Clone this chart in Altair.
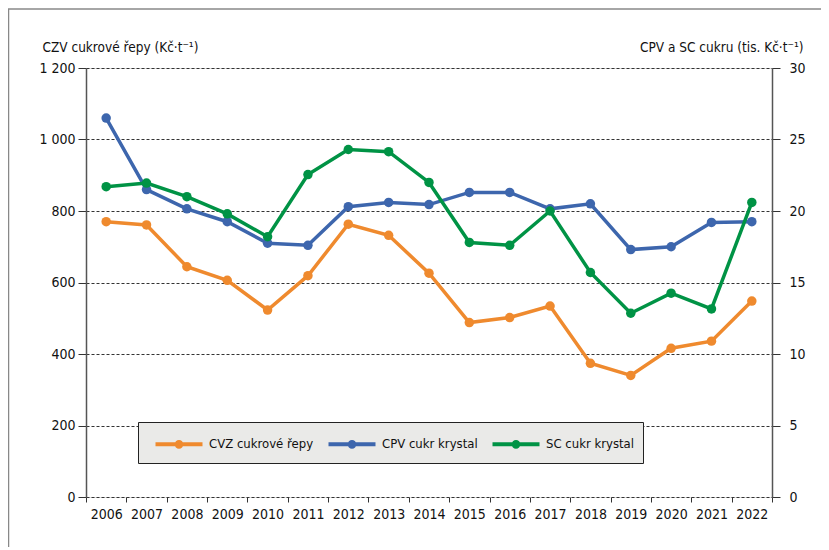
import altair as alt
import pandas as pd

years = [str(y) for y in range(2006, 2023)]
czv = [770, 761, 644, 606, 523, 619, 763, 732, 626, 488, 502, 534, 374, 340, 416, 436, 548]
cpv = [26.5, 21.5, 20.15, 19.25, 17.75, 17.6, 20.3, 20.6, 20.45, 21.3, 21.3, 20.15, 20.5, 17.3, 17.5, 19.2, 19.25]
sc = [21.7, 21.95, 21.0, 19.8, 18.2, 22.55, 24.3, 24.15, 22.0, 17.8, 17.6, 20.0, 15.7, 12.85, 14.25, 13.15, 20.6]

series_names = ["CVZ cukrové řepy", "CPV cukr krystal", "SC cukr krystal"]
series_colors = ["#ef8a2e", "#3d66ad", "#009345"]

left_title = "CZV cukrové řepy (Kč·t⁻¹)"
right_title = "CPV a SC cukru (tis. Kč·t⁻¹)"

left_df = pd.DataFrame({"year": years, "series": series_names[0], "value": czv})
right_df = pd.concat([
    pd.DataFrame({"year": years, "series": series_names[1], "value": cpv}),
    pd.DataFrame({"year": years, "series": series_names[2], "value": sc}),
])

FONT = "'Liberation Sans Narrow', 'Arial Narrow', 'DejaVu Sans Condensed', 'Roboto Condensed', Roboto, 'Liberation Sans', sans-serif"
W, H = 686, 429

legend_path = "M-2,0H2M0.2,0A0.2,0.2,0,1,1,-0.2,0A0.2,0.2,0,1,1,0.2,0Z"

xenc = alt.X("year:O", title=None,
             scale=alt.Scale(type="band", paddingInner=0, paddingOuter=0),
             axis=alt.Axis(labelAngle=0, tickBand="extent", domain=False,
                           ticks=True, tickSize=5, tickColor="#333",
                           labelPadding=5, labelFontSize=14, labelColor="#111",
                           labelFont=FONT, grid=False))

color = alt.Color("series:N", title=None,
                  scale=alt.Scale(domain=series_names, range=series_colors),
                  legend=alt.Legend(
                      orient="none", legendX=52, legendY=354, direction="horizontal",
                      symbolType=legend_path, symbolSize=552, symbolStrokeWidth=4,
                      symbolOffset=19, labelOffset=16, columnPadding=5,
                      padding=8, fillColor="#eaeae8", strokeColor="#222",
                      labelFont=FONT, labelFontSize=13, labelColor="#111",
                      labelLimit=300))

left_axis = alt.Axis(title=left_title, titleAngle=0, titleAlign="left",
                     titleBaseline="alphabetic", titleX=-44, titleY=-17,
                     titleFont=FONT, titleFontSize=13.5, titleFontWeight="normal",
                     titleColor="#111",
                     values=[0, 200, 400, 600, 800, 1000, 1200],
                     labelExpr="replace(format(datum.value, ',d'), ',', ' ')",
                     labelFont=FONT, labelFontSize=14, labelColor="#111",
                     labelPadding=3, tickSize=8, tickColor="#333",
                     domainColor="#555", domainWidth=1.5,
                     grid=True, gridDash=[3, 2], gridColor="#333", gridWidth=1)

right_axis = alt.Axis(title=right_title, orient="right", titleAngle=0,
                      titleAlign="right", titleBaseline="alphabetic",
                      titleX=31, titleY=-17,
                      titleFont=FONT, titleFontSize=13.5, titleFontWeight="normal",
                      titleColor="#111",
                      values=[0, 5, 10, 15, 20, 25, 30],
                      labelFont=FONT, labelFontSize=14, labelColor="#111",
                      labelPadding=9, tickSize=8, tickColor="#333",
                      domainColor="#555", domainWidth=1.5, grid=False)

yl = alt.Y("value:Q", scale=alt.Scale(domain=[0, 1200], nice=False), axis=left_axis)
yr = alt.Y("value:Q", scale=alt.Scale(domain=[0, 30], nice=False), axis=right_axis)

left = alt.layer(
    alt.Chart(left_df).mark_line(strokeWidth=3.5).encode(x=xenc, y=yl, color=color),
    alt.Chart(left_df).mark_point(filled=True, size=90, opacity=1).encode(x=xenc, y=yl, color=color),
)
right = alt.layer(
    alt.Chart(right_df).mark_line(strokeWidth=3.5).encode(x=xenc, y=yr, color=color, detail="series:N"),
    alt.Chart(right_df).mark_point(filled=True, size=90, opacity=1).encode(x=xenc, y=yr, color=color),
)

frame_df = pd.DataFrame({"k": [0]})
frame = alt.layer(
    alt.Chart(frame_df).mark_rule(color="#888", strokeWidth=1.5).encode(
        x=alt.value(-77.5), y=alt.value(-59), y2=alt.value(H + 60)),
    alt.Chart(frame_df).mark_rule(color="#888", strokeWidth=1.5).encode(
        x=alt.value(-78), x2=alt.value(W + 60), y=alt.value(-59)),
)

chart = alt.layer(left, right, frame).resolve_scale(y="independent").properties(
    width=W, height=H,
    autosize=alt.AutoSizeParams(type="none"),
    padding={"left": 78, "top": 60, "right": 49, "bottom": 50},
).configure_view(fill="#eaeae8", stroke=None).configure(background="white")

chart.save("out.html", embed_options={"renderer": "svg", "actions": False})
